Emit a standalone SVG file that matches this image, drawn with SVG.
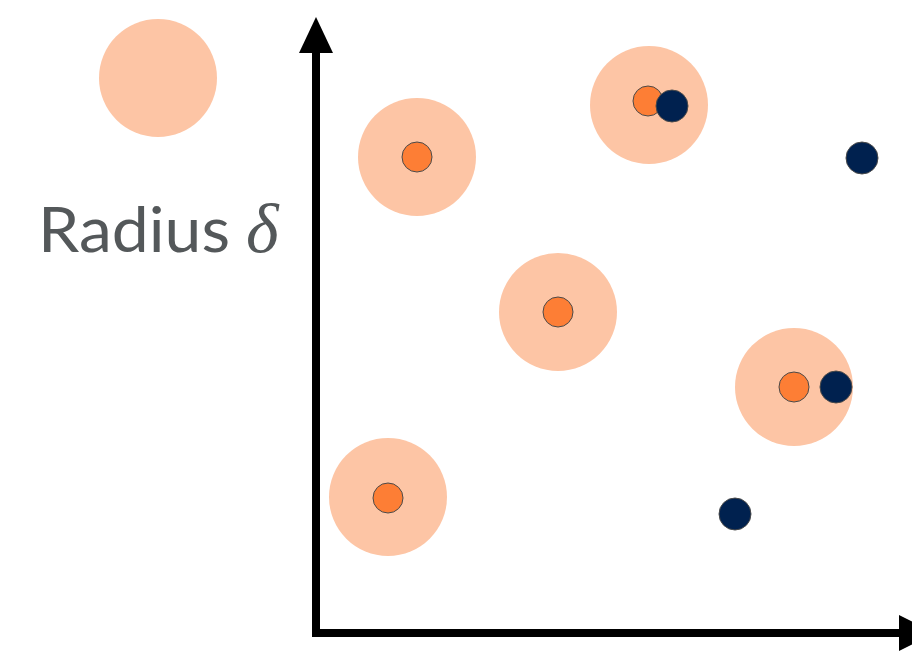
<svg xmlns="http://www.w3.org/2000/svg" width="912" height="652" viewBox="0 0 912 652">
<style>
.halo{fill:#FDC5A5}
.pt{fill:#FD7E35;stroke:#4a4a4a;stroke-width:1}
.neg{fill:#00214F;stroke:#4a4a4a;stroke-width:1}
.axis{stroke:#000;stroke-width:8;fill:none}
.lbl{font-family:Lato,"Open Sans",sans-serif;font-size:62px;fill:#54585A}
</style>
<rect width="912" height="652" fill="#fff"/>
<g id="legend">
<circle class="halo" cx="158" cy="78" r="59"/>
<text class="lbl" x="38" y="252" textLength="192" lengthAdjust="spacingAndGlyphs">Radius</text>
<text x="246" y="252" font-family="'Liberation Serif',serif" font-style="italic" font-size="70" fill="#54585A">δ</text>
</g>
<g id="connectors">
<line class="axis" x1="316" y1="50" x2="316" y2="633"/>
<line class="axis" x1="312" y1="633" x2="902" y2="633"/>
<polygon points="316,17 333,53 299,53" fill="#000"/>
<polygon points="935,633 899,615 899,651" fill="#000"/>
</g>
<g id="p1"><circle class="halo" cx="417" cy="157" r="59"/><circle class="pt" cx="417" cy="157" r="15"/></g>
<g id="p2"><circle class="halo" cx="649" cy="105" r="59"/><circle class="pt" cx="648" cy="101" r="15"/></g>
<g id="p3"><circle class="halo" cx="558" cy="312" r="59"/><circle class="pt" cx="558" cy="312" r="15"/></g>
<g id="p4"><circle class="halo" cx="794" cy="387" r="59"/><circle class="pt" cx="794" cy="387" r="15"/></g>
<g id="p5"><circle class="halo" cx="388" cy="497" r="59"/><circle class="pt" cx="388" cy="498" r="15"/></g>
<g id="n1"><circle class="neg" cx="672" cy="106" r="16"/></g>
<g id="n2"><circle class="neg" cx="862" cy="158" r="16"/></g>
<g id="n3"><circle class="neg" cx="836" cy="387" r="16"/></g>
<g id="n4"><circle class="neg" cx="735" cy="514" r="16"/></g>
</svg>
